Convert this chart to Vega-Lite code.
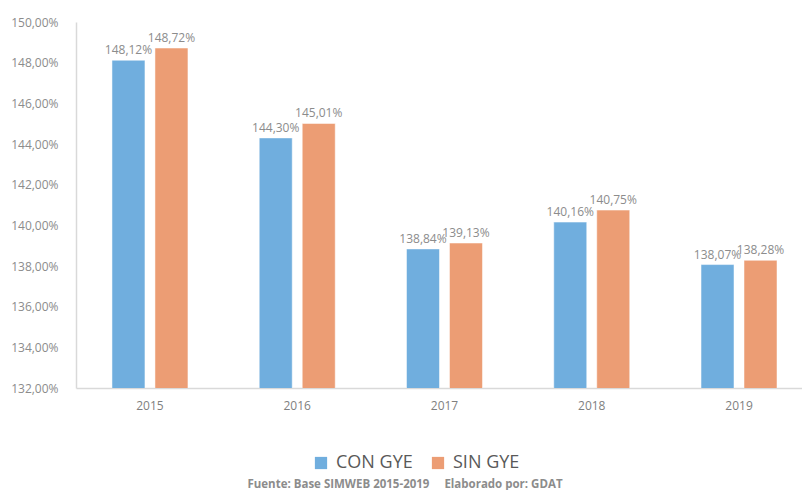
{
  "$schema": "https://vega.github.io/schema/vega-lite/v6.json",
  "autosize": {"type": "none"},
  "width": 726,
  "height": 366,
  "padding": {"left": 76, "top": 22, "right": 0, "bottom": 102},
  "background": "white",
  "config": {
    "locale": {"number": {"decimal": ",", "thousands": ".", "grouping": [3], "currency": ["", " €"]}},
    "view": {"stroke": null},
    "font": "Open Sans"
  },
  "data": {
    "values": [
      {"year": "2015", "serie": "CON GYE", "value": 1.4812},
      {"year": "2015", "serie": "SIN GYE", "value": 1.4872},
      {"year": "2016", "serie": "CON GYE", "value": 1.4430},
      {"year": "2016", "serie": "SIN GYE", "value": 1.4501},
      {"year": "2017", "serie": "CON GYE", "value": 1.3884},
      {"year": "2017", "serie": "SIN GYE", "value": 1.3913},
      {"year": "2018", "serie": "CON GYE", "value": 1.4016},
      {"year": "2018", "serie": "SIN GYE", "value": 1.4075},
      {"year": "2019", "serie": "CON GYE", "value": 1.3807},
      {"year": "2019", "serie": "SIN GYE", "value": 1.3828}
    ]
  },
  "title": {
    "text": "Fuente: Base SIMWEB 2015-2019\u00a0\u00a0\u00a0\u00a0 Elaborado por: GDAT",
    "orient": "bottom",
    "anchor": "middle",
    "dx": -34,
    "offset": 7,
    "fontSize": 11.5,
    "fontWeight": "bold",
    "color": "#8c8c8c",
    "font": "Open Sans"
  },
  "encoding": {
    "x": {
      "field": "year", "type": "nominal",
      "scale": {"paddingInner": 0.484, "paddingOuter": 0.207, "align": 0.59},
      "axis": {
        "title": null, "labelAngle": 0, "ticks": false, "labelPadding": 12,
        "labelFontSize": 12, "labelColor": "#7f7f7f", "domainColor": "#d9d9d9", "domainWidth": 1.5,
        "labelFont": "Open Sans"
      }
    },
    "xOffset": {"field": "serie", "type": "nominal", "scale": {"paddingInner": 0.2326, "paddingOuter": 0}},
    "y": {
      "field": "value", "type": "quantitative",
      "scale": {"domain": [1.32, 1.5], "zero": false, "nice": false},
      "axis": {
        "title": null, "format": ".2%", "values": [1.32, 1.34, 1.36, 1.38, 1.40, 1.42, 1.44, 1.46, 1.48, 1.5],
        "grid": false, "ticks": false, "labelPadding": 18,
        "labelFontSize": 12, "labelColor": "#8c8c8c", "domainColor": "#d9d9d9", "domainWidth": 1.5,
        "labelFont": "Open Sans"
      }
    },
    "color": {
      "field": "serie", "type": "nominal",
      "scale": {"domain": ["CON GYE", "SIN GYE"], "range": ["#70AEDE", "#EC9D74"]},
      "legend": {
        "title": null, "orient": "none", "direction": "horizontal",
        "legendX": 236, "legendY": 432,
        "symbolType": "square", "symbolSize": 150, "symbolStrokeWidth": 0,
        "labelFontSize": 18, "labelColor": "#595959", "labelFont": "Open Sans",
        "columnPadding": 16, "labelOffset": 6
      }
    }
  },
  "layer": [
    {"mark": {"type": "bar", "stroke": "white", "strokeWidth": 0.5, "clip": true}},
    {
      "mark": {"type": "text", "baseline": "bottom", "dy": -3, "fontSize": 12, "color": "#8c8c8c", "font": "Open Sans"},
      "encoding": {"text": {"field": "value", "type": "quantitative", "format": ".2%"}, "color": {"value": "#8c8c8c"}}
    }
  ]
}
